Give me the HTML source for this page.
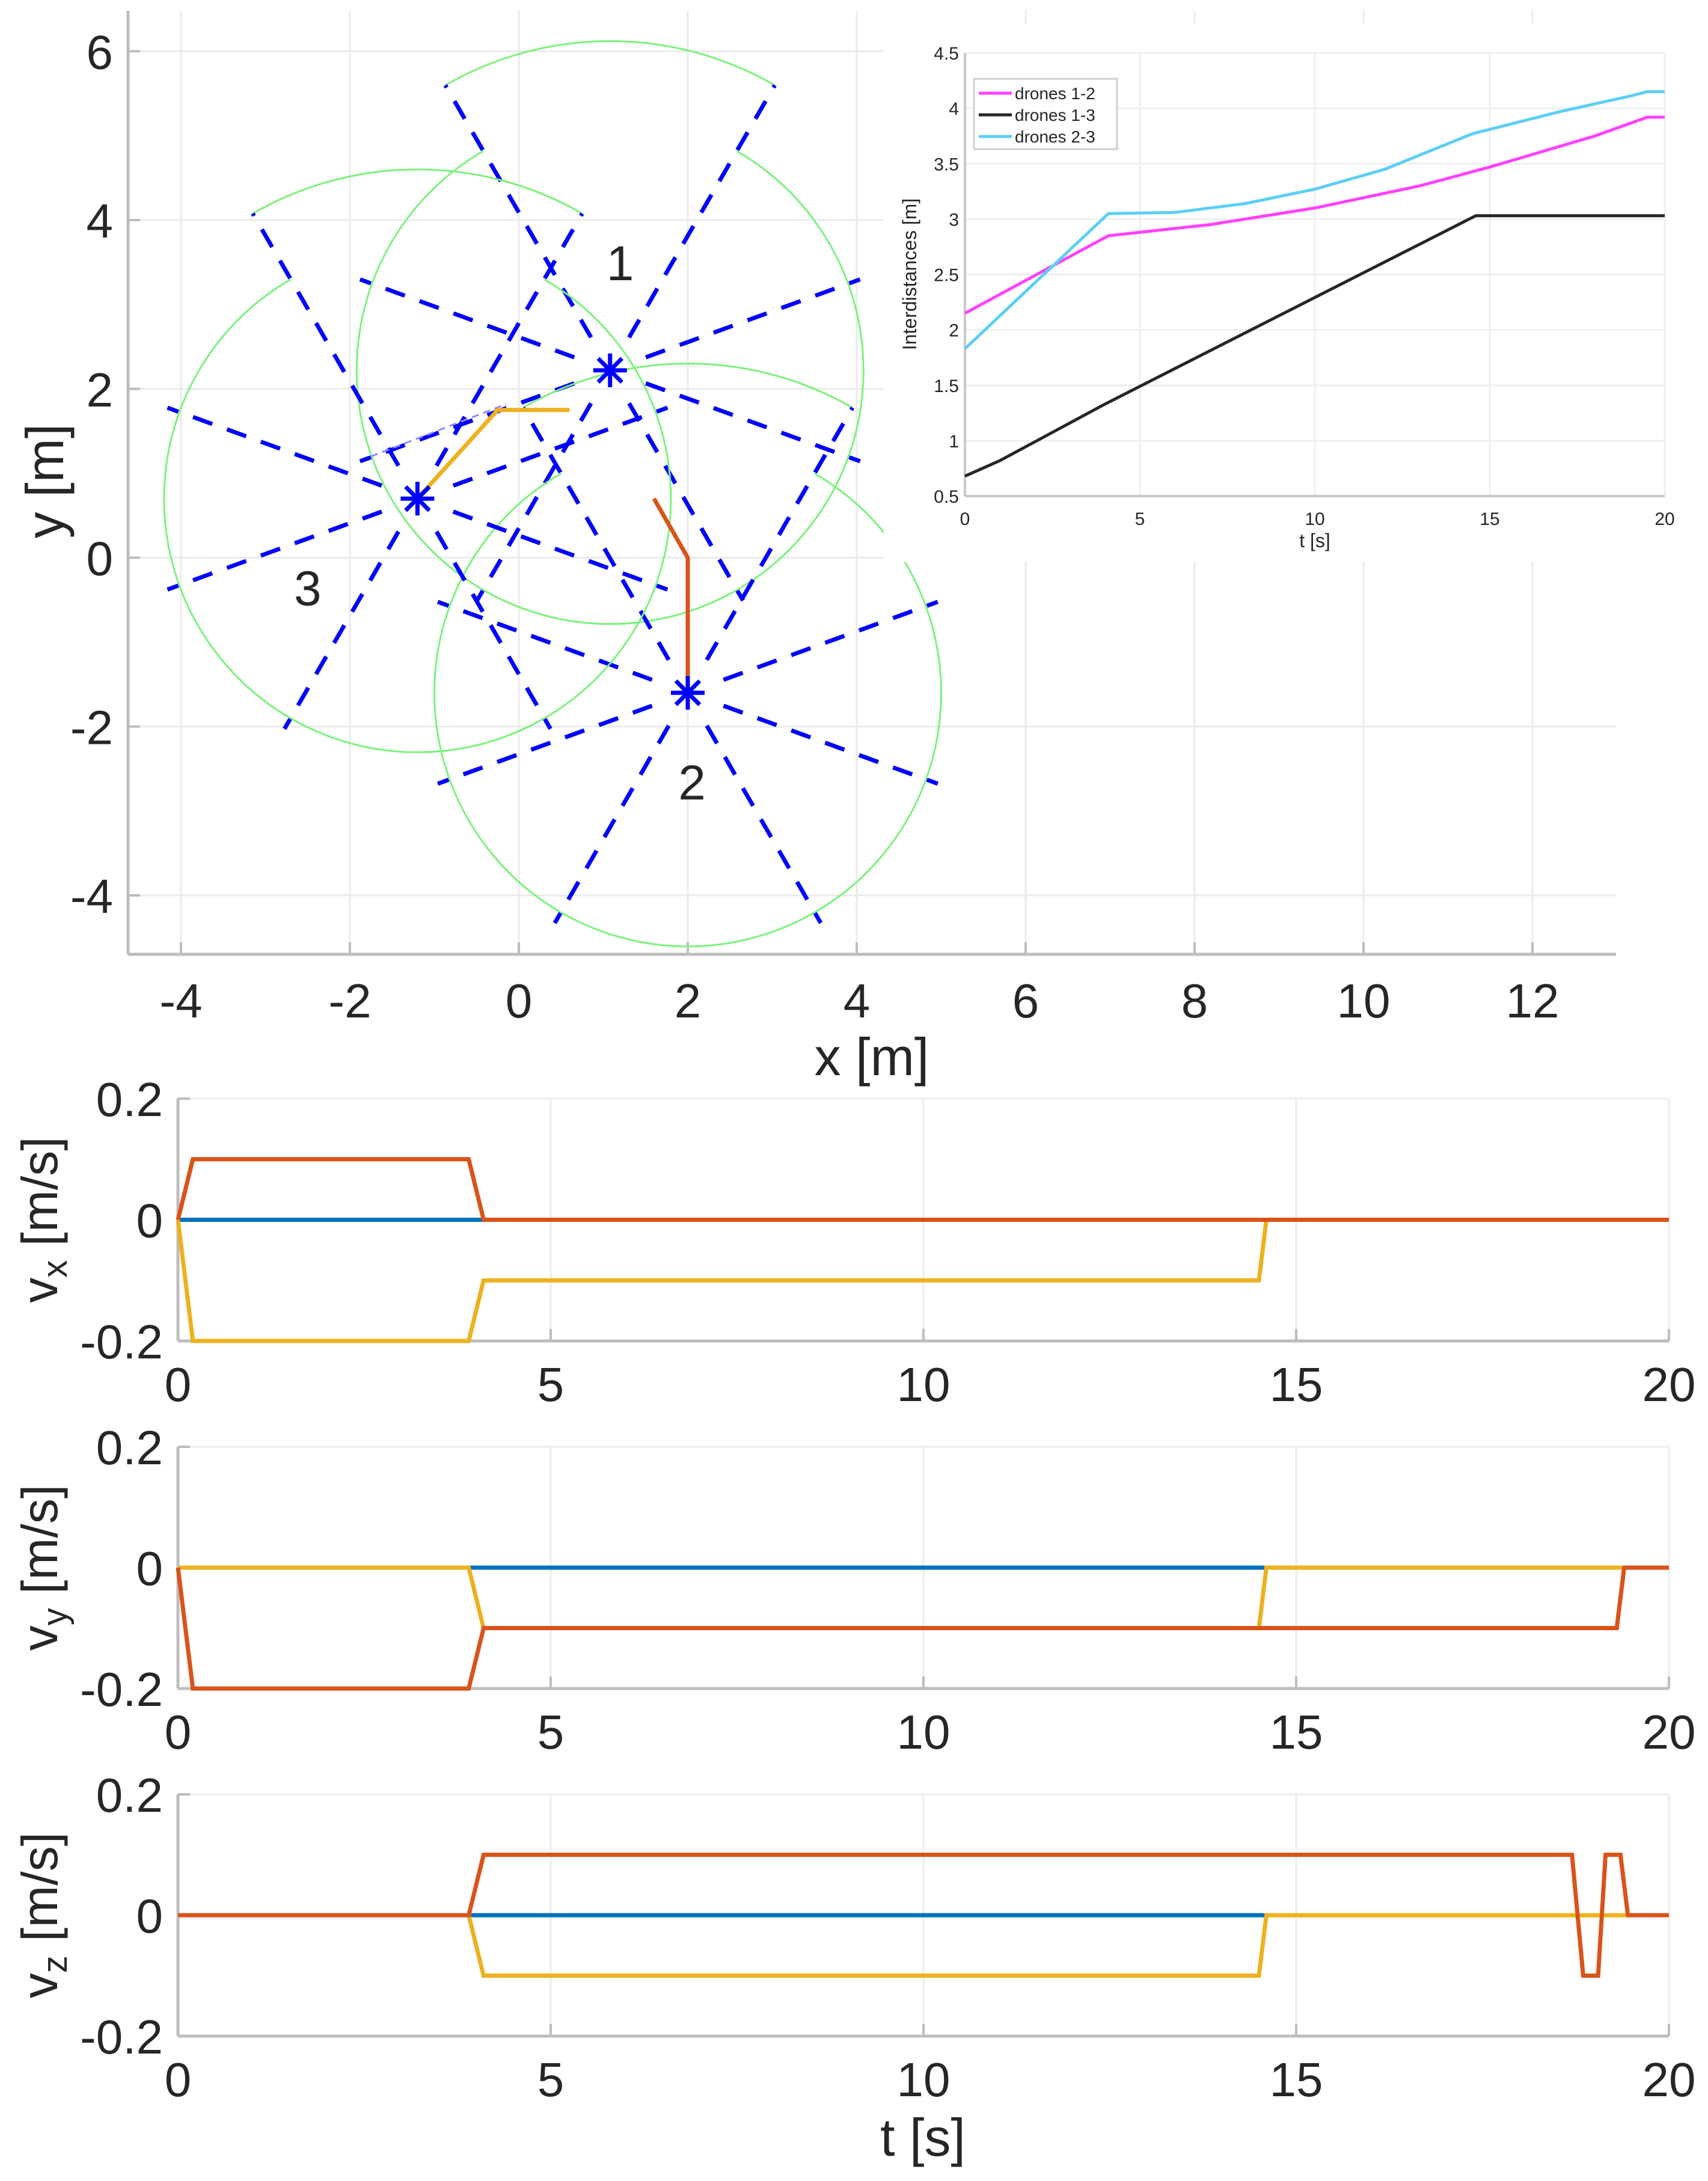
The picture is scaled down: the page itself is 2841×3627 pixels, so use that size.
<!DOCTYPE html>
<html><head><meta charset="utf-8">
<style>html,body{margin:0;padding:0;background:#fff}svg{display:block}text{font-family:"Liberation Sans",sans-serif;fill:#262626}</style>
</head><body>
<svg id="fig" xmlns="http://www.w3.org/2000/svg" width="2841" height="3627" viewBox="0 0 2841 3627"></svg>
<script>
// ---- main xy plot data ----
const droneNames = ["1","2","3"];
const droneX = [1.08, 2.0, -1.2];
const droneY = [2.22, -1.6, 0.7];
const labelX = [1.2, 2.05, -2.5];
const labelY = [3.5, -2.65, -0.35];
const rayAngles = [20, 60, 120, 160, 200, 240, 300, 340];
const rayLen = [3.15, 3.9, 3.9, 3.15, 3.15, 3.15, 3.15, 3.15];
const sensRadius = 3;
const trajYellowX = [-1.2, -0.25, 0.6];
const trajYellowY = [0.7, 1.75, 1.75];
const trajRedX = [1.6, 2.0, 2.0];
const trajRedY = [0.7, 0.0, -1.6];
const xyTicksX = [-4,-2,0,2,4,6,8,10,12];
const xyTicksY = [-4,-2,0,2,4,6];
// ---- inset data ----
const t12 = [0, 4.1, 7, 10, 13, 15, 18, 19.5, 20];
const d12 = [2.15, 2.85, 2.95, 3.1, 3.3, 3.47, 3.75, 3.92, 3.92];
const t13 = [0, 1, 4, 14.6, 20];
const d13 = [0.68, 0.82, 1.33, 3.03, 3.03];
const t23 = [0, 4.1, 6, 8, 10, 12, 14.5, 17, 19, 19.5, 20];
const d23 = [1.83, 3.05, 3.06, 3.14, 3.27, 3.45, 3.77, 3.97, 4.11, 4.15, 4.15];
const insetTicksX = [0,5,10,15,20];
const insetTicksY = [0.5,1,1.5,2,2.5,3,3.5,4,4.5];
// ---- velocity data ----
const vTicksX = [0,5,10,15,20];
const vTicksY = [-0.2, 0, 0.2];
const vxBlueT = [0, 20], vxBlueV = [0, 0];
const vxYelT = [0, 0.2, 3.9, 4.1, 14.5, 14.6, 20], vxYelV = [0, -0.2, -0.2, -0.1, -0.1, 0, 0];
const vxRedT = [0, 0.2, 3.9, 4.1, 20], vxRedV = [0, 0.1, 0.1, 0, 0];
const vyBlueT = [0, 20], vyBlueV = [0, 0];
const vyYelT = [0, 3.9, 4.1, 14.5, 14.6, 20], vyYelV = [0, 0, -0.1, -0.1, 0, 0];
const vyRedT = [0, 0.2, 3.9, 4.1, 19.3, 19.4, 20], vyRedV = [0, -0.2, -0.2, -0.1, -0.1, 0, 0];
const vzBlueT = [0, 20], vzBlueV = [0, 0];
const vzYelT = [0, 3.9, 4.1, 14.5, 14.6, 20], vzYelV = [0, 0, -0.1, -0.1, 0, 0];
const vzRedT = [0, 3.9, 4.1, 18.7, 18.85, 19.05, 19.15, 19.35, 19.45, 20], vzRedV = [0, 0, 0.1, 0.1, -0.1, -0.1, 0.1, 0.1, 0, 0];

const NS = "http://www.w3.org/2000/svg";
const svg = document.getElementById("fig");
function el(tag, attrs, parent) {
  const e = document.createElementNS(NS, tag);
  for (const k in attrs) e.setAttribute(k, attrs[k]);
  (parent || svg).appendChild(e);
  return e;
}
function txt(s, x, y, size, anchor, parent, extra) {
  const t = el("text", Object.assign({x: x, y: y, "font-size": size, "text-anchor": anchor || "middle"}, extra || {}), parent);
  t.textContent = s;
  return t;
}
function lin(d0, d1, p0, p1) { return v => p0 + (v - d0) * (p1 - p0) / (d1 - d0); }
function pts(xs, ys, fx, fy) { return xs.map((v, i) => fx(v).toFixed(1) + "," + fy(ys[i]).toFixed(1)).join(" "); }

// ===== main xy plot =====
const L = 213, R = 2688, T = 18, B = 1587;
const fx = lin(0, 4, 863, 1425), fy = lin(0, 4, 927.5, 366);
const gMain = el("g", {});


xyTicksX.forEach(v => {
  const g = el("line", {x1: fx(v), x2: fx(v), y1: T, y2: B, stroke: "#ebebeb", "stroke-width": 3}, gMain);
  
  
});
xyTicksY.forEach(v => {
  const g = el("line", {x1: L, x2: R, y1: fy(v), y2: fy(v), stroke: "#ebebeb", "stroke-width": 3}, gMain);
  
  
});
droneX.forEach((cx, i) => {
  const cy = droneY[i];
  const P = (a, r) => [fx(cx + r * Math.cos(a * Math.PI / 180)), fy(cy + r * Math.sin(a * Math.PI / 180))];
  const rPx = fx(sensRadius) - fx(0), r2 = fx(3.9) - fx(0);
  const a = P(60, sensRadius), b = P(120, sensRadius), c = P(60, 3.9), d = P(120, 3.9);
  const arcSmall = el("path", {d: `M${a[0]},${a[1]} A${rPx},${rPx} 0 1 1 ${b[0]},${b[1]}`, fill: "none", stroke: "#7cf27c", "stroke-width": 3}, gMain);
  
  
  const arcBig = el("path", {d: `M${d[0]},${d[1]} A${r2},${r2} 0 0 1 ${c[0]},${c[1]}`, fill: "none", stroke: "#7cf27c", "stroke-width": 3}, gMain);
  
  
  rayAngles.forEach((ang, j) => {
    const s = P(ang, 0.45), e = P(ang, rayLen[j]);
    const ray = el("line", {x1: s[0], y1: s[1], x2: e[0], y2: e[1], stroke: "#0000ff", "stroke-width": 7, "stroke-dasharray": "34 26"}, gMain);
    
    
  });
});
const thin = el("line", {x1: fx(-1.75), y1: fy(1.2), x2: fx(-0.15), y2: fy(1.82), stroke: "#8c8cff", "stroke-width": 3, "stroke-dasharray": "12 8"}, gMain);


const ty = el("polyline", {points: pts(trajYellowX, trajYellowY, fx, fy), fill: "none", stroke: "#EDB120", "stroke-width": 7}, gMain);


const tr = el("polyline", {points: pts(trajRedX, trajRedY, fx, fy), fill: "none", stroke: "#D95319", "stroke-width": 7}, gMain);


droneX.forEach((cx, i) => {
  const X = fx(cx), Y = fy(droneY[i]);
  const m = el("g", {stroke: "#0000ff", "stroke-width": 7}, gMain);
  
  
  [0, 45, 90, 135].forEach(a => {
    const dx = 28 * Math.cos(a * Math.PI / 180), dy = 28 * Math.sin(a * Math.PI / 180);
    el("line", {x1: X - dx, y1: Y - dy, x2: X + dx, y2: Y + dy}, m);
  });
  const lb = txt(droneNames[i], fx(labelX[i]), fy(labelY[i]) + 30, 82, "middle", gMain);
  
  
});
const axL = el("line", {x1: L, x2: L, y1: T, y2: B, stroke: "#bdbdbd", "stroke-width": 5}, gMain);


const axB = el("line", {x1: L, x2: R, y1: B, y2: B, stroke: "#bdbdbd", "stroke-width": 5}, gMain);


xyTicksX.forEach(v => {
  el("line", {x1: fx(v), x2: fx(v), y1: B, y2: B - 20, stroke: "#bdbdbd", "stroke-width": 4}, gMain);
  const t = txt(String(v), fx(v), B + 105, 80, "middle", gMain);
  
  
});
xyTicksY.forEach(v => {
  el("line", {x1: L, x2: L + 20, y1: fy(v), y2: fy(v), stroke: "#bdbdbd", "stroke-width": 4}, gMain);
  const t = txt(String(v), L - 25, fy(v) + 29, 80, "end", gMain);
  
  
});
const xl = txt("x [m]", 1450, 1788, 88, "middle", gMain);


const yl = txt("y [m]", 0, 0, 88, "middle", gMain, {transform: "translate(105,800) rotate(-90)"});



// ===== inset =====
const iL = 1605, iR = 2769, iT = 88, iB = 825;
const ix = lin(0, 20, iL, iR), iy = lin(0.5, 4.5, iB, iT);
const gIn = el("g", {});


el("rect", {x: 1470, y: 40, width: 1371, height: 895, fill: "#fff"}, gIn);
insetTicksX.forEach(v => {
  el("line", {x1: ix(v), x2: ix(v), y1: iT, y2: iB, stroke: "#efefef", "stroke-width": 3}, gIn);
  const t = txt(String(v), ix(v), iB + 48, 30, "middle", gIn);
  
  
});
insetTicksY.forEach(v => {
  el("line", {x1: iL, x2: iR, y1: iy(v), y2: iy(v), stroke: "#efefef", "stroke-width": 3}, gIn);
  const t = txt(String(v), iL - 10, iy(v) + 11, 30, "end", gIn);
  
  
});
el("line", {x1: iL, x2: iL, y1: iT, y2: iB, stroke: "#c8c8c8", "stroke-width": 4}, gIn);
el("line", {x1: iL, x2: iR, y1: iB, y2: iB, stroke: "#c8c8c8", "stroke-width": 4}, gIn);
const s12 = el("polyline", {points: pts(t12, d12, ix, iy), fill: "none", stroke: "#ff40ff", "stroke-width": 5}, gIn);


const s13 = el("polyline", {points: pts(t13, d13, ix, iy), fill: "none", stroke: "#262626", "stroke-width": 5}, gIn);


const s23 = el("polyline", {points: pts(t23, d23, ix, iy), fill: "none", stroke: "#5ccff5", "stroke-width": 5}, gIn);


const lg = el("g", {}, gIn);


el("rect", {x: 1620, y: 131, width: 238, height: 117, fill: "#fff", stroke: "#cfcfcf", "stroke-width": 3}, lg);
[["drones 1-2", "#ff40ff"], ["drones 1-3", "#262626"], ["drones 2-3", "#5ccff5"]].forEach((e, k) => {
  const y = 155 + k * 36;
  el("line", {x1: 1628, x2: 1683, y1: y, y2: y, stroke: e[1], "stroke-width": 5}, lg);
  const t = txt(e[0], 1688, y + 10, 28, "start", lg);
  
  
});
const ixl = txt("t [s]", ix(10), iB + 85, 32, "middle", gIn);


const iyl = txt("Interdistances [m]", 0, 0, 32, "middle", gIn, {transform: "translate(1524,456) rotate(-90)"});



// ===== velocity plots =====
const vL = 296, vR = 2776;
const panels = [
  {top: 1827, bot: 2230, sub: "x", name: "vx-panel", series: [[vxBlueT, vxBlueV, "#0072BD"], [vxYelT, vxYelV, "#EDB120"], [vxRedT, vxRedV, "#D95319"]]},
  {top: 2406, bot: 2808, sub: "y", name: "vy-panel", series: [[vyBlueT, vyBlueV, "#0072BD"], [vyYelT, vyYelV, "#EDB120"], [vyRedT, vyRedV, "#D95319"]]},
  {top: 2984, bot: 3386, sub: "z", name: "vz-panel", series: [[vzBlueT, vzBlueV, "#0072BD"], [vzYelT, vzYelV, "#EDB120"], [vzRedT, vzRedV, "#D95319"]]}
];
const seriesNames = ["series-drone-1", "series-drone-3", "series-drone-2"];
panels.forEach(p => {
  const g = el("g", {});
  
  
  const tx = lin(0, 20, vL, vR), vy = lin(-0.2, 0.2, p.bot, p.top);
  vTicksX.forEach(v => {
    el("line", {x1: tx(v), x2: tx(v), y1: p.top, y2: p.bot, stroke: "#ececec", "stroke-width": 3}, g);
    el("line", {x1: tx(v), x2: tx(v), y1: p.bot, y2: p.bot - 20, stroke: "#bdbdbd", "stroke-width": 4}, g);
    const t = txt(String(v), tx(v), p.bot + 100, 80, "middle", g);
    
    
  });
  vTicksY.forEach(v => {
    el("line", {x1: vL, x2: vR, y1: vy(v), y2: vy(v), stroke: "#ececec", "stroke-width": 3}, g);
    el("line", {x1: vL, x2: vL + 20, y1: vy(v), y2: vy(v), stroke: "#bdbdbd", "stroke-width": 4}, g);
    const t = txt(String(v), vL - 25, vy(v) + 29, 80, "end", g);
    
    
  });
  el("line", {x1: vL, x2: vL, y1: p.top, y2: p.bot, stroke: "#bdbdbd", "stroke-width": 5}, g);
  el("line", {x1: vL, x2: vR, y1: p.bot, y2: p.bot, stroke: "#bdbdbd", "stroke-width": 5}, g);
  p.series.forEach((s, k) => {
    const pl = el("polyline", {points: pts(s[0], s[1], tx, vy), fill: "none", stroke: s[2], "stroke-width": 7}, g);
    
    
  });
  const cy = (p.top + p.bot) / 2;
  const yl2 = el("text", {transform: `translate(95,${cy}) rotate(-90)`, "font-size": 84, "text-anchor": "middle"}, g);
  
  
  const t1 = el("tspan", {}, yl2); t1.textContent = "v";
  const t2 = el("tspan", {"font-size": 58, dy: 16}, yl2); t2.textContent = p.sub;
  const t3 = el("tspan", {dy: -16}, yl2); t3.textContent = "  [m/s]";
});
const tl = txt("t [s]", 1535, 3585, 88, "middle");


</script>
</body></html>
